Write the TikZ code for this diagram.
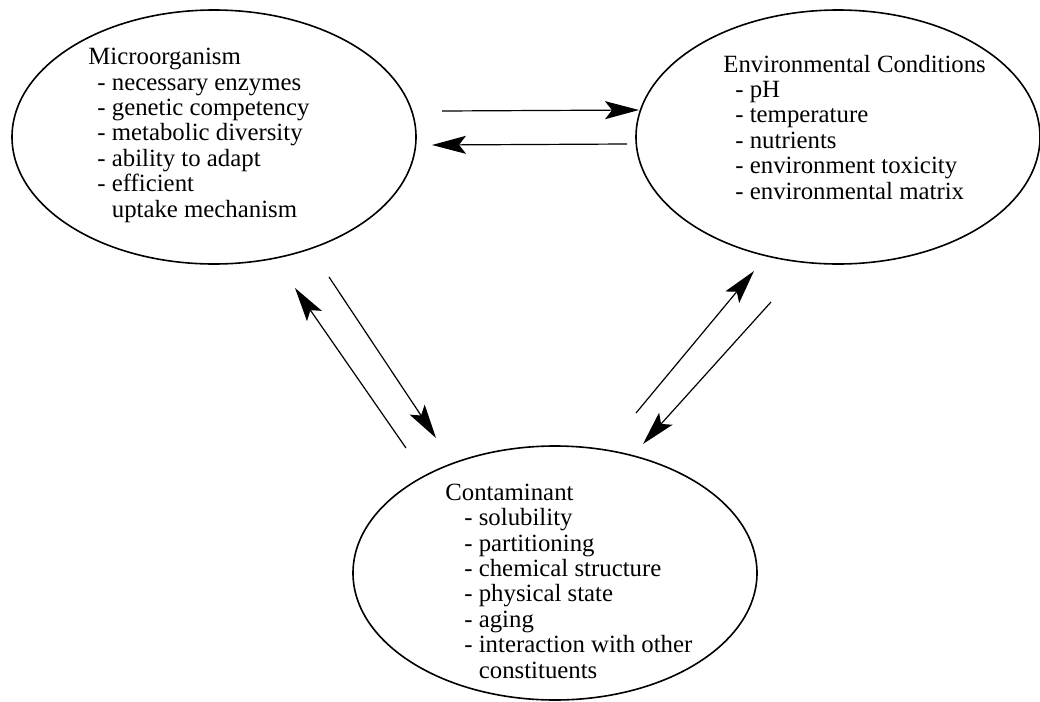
\documentclass[tikz,border=0pt]{standalone}
\usepackage{fontspec}
\setmainfont{Liberation Serif}
\usetikzlibrary{shapes.geometric,arrows.meta}
\tikzset{
  factor/.style={ellipse,draw,line width=0.8pt,minimum width=202pt,minimum height=127pt,inner sep=0pt},
  facttext/.style={anchor=base west,align=left,inner sep=0pt,font=\fontsize{12.4}{12.7}\selectfont},
  link/.style={->,line width=0.6pt}
}
\begin{document}
\begin{tikzpicture}[x=0.5pt,y=-0.5pt,>={Stealth[length=17pt,width=9pt,inset=3.5pt]}]
  \useasboundingbox (0,0) rectangle (1040,702);
  \node[factor] (mic) at (214,137) {};
  \node[factor] (env) at (838,137) {};
  \node[factor] (con) at (555,573) {};
  % text blocks sit on the baseline of their last line
  \node[facttext] (micText) at (88,217) {Microorganism\\
    \hspace{4.5pt}- necessary enzymes\\
    \hspace{4.5pt}- genetic competency\\
    \hspace{4.5pt}- metabolic diversity\\
    \hspace{4.5pt}- ability to adapt\\
    \hspace{4.5pt}- ef{}ficient\\
    \hspace{4.5pt}\phantom{- }uptake mechanism};
  \node[facttext] (envText) at (723,199) {Environmental Conditions\\
    \hspace{6pt}- pH\\
    \hspace{6pt}- temperature\\
    \hspace{6pt}- nutrients\\
    \hspace{6pt}- environment toxicity\\
    \hspace{6pt}- environmental matrix};
  \node[facttext] (conText) at (445,678) {Contaminant\\
    \hspace{9.5pt}- solubility\\
    \hspace{9.5pt}- partitioning\\
    \hspace{9.5pt}- chemical structure\\
    \hspace{9.5pt}- physical state\\
    \hspace{9.5pt}- aging\\
    \hspace{9.5pt}- interaction with other\\
    \hspace{9.5pt}\phantom{- }constituents};
  % arrow ends
  \coordinate (me1) at (442,111); \coordinate (me2) at (639,110);
  \coordinate (em1) at (627,144); \coordinate (em2) at (432,145);
  \coordinate (cm1) at (406,448); \coordinate (cm2) at (295,288);
  \coordinate (mc1) at (329,277); \coordinate (mc2) at (436,438);
  \coordinate (ce1) at (636,413); \coordinate (ce2) at (754,271);
  \coordinate (ec1) at (771,302); \coordinate (ec2) at (643,444);
  \draw[link] (me1) -- (me2);
  \draw[link] (em1) -- (em2);
  \draw[link] (cm1) -- (cm2);
  \draw[link] (mc1) -- (mc2);
  \draw[link] (ce1) -- (ce2);
  \draw[link] (ec1) -- (ec2);
\end{tikzpicture}
\end{document}
